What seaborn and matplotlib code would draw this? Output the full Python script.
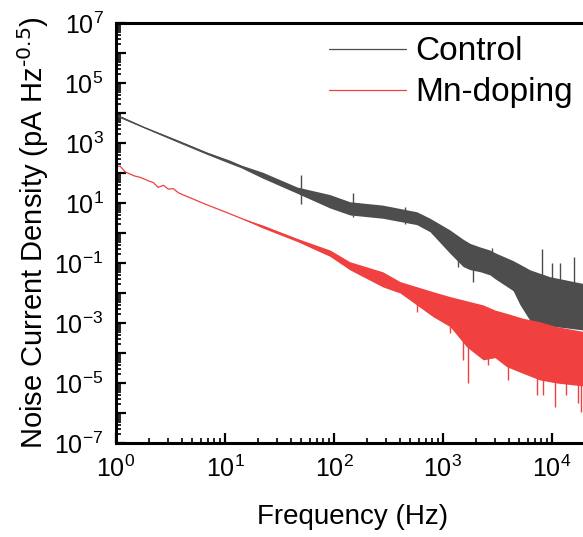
import seaborn as sns
import matplotlib.pyplot as plt
import matplotlib.ticker as mticker
import pandas as pd
import numpy as np

sns.set_style('ticks')
plt.rcParams['font.family'] = ['Liberation Sans', 'DejaVu Sans']
plt.rcParams['mathtext.default'] = 'regular'
plt.rcParams['text.color'] = 'black'
plt.rcParams['axes.labelcolor'] = 'black'
plt.rcParams['axes.edgecolor'] = 'black'
plt.rcParams['xtick.color'] = 'black'
plt.rcParams['ytick.color'] = 'black'

# Control: frequency (Hz), upper and lower edge of the noise band
control_freq = [1, 1.8, 3.6, 6.8, 11, 14, 22, 46, 92, 140, 280, 575, 760, 1160,
                1530, 1770, 2200, 2700, 3000, 4400, 5100, 6300, 9550, 19050, 22000]
control_hi = [9.3e3, 3.5e3, 1.3e3, 500, 270, 185, 107, 34, 19, 11, 8.5, 5.1, 3.1, 1.26,
              0.62, 0.45, 0.34, 0.27, 0.22, 0.12, 0.09, 0.059, 0.035, 0.021, 0.019]
control_lo = [7.9e3, 3.2e3, 1.1e3, 420, 210, 150, 68, 21, 6.8, 4.0, 3.1, 1.9, 1.1, 0.21,
              0.076, 0.06, 0.051, 0.04, 0.03, 0.012, 0.004, 0.0012, 8e-4, 5.9e-4, 5.5e-4]

# Mn-doping
mn_freq = [1, 1.09, 1.21, 1.34, 1.49, 1.66, 1.78, 1.98, 2.2, 2.44, 2.72, 3.02, 3.36,
           3.73, 4.14, 5.12, 6.3, 7.8, 10.4, 13.7, 22, 46, 92, 140, 280, 404, 815,
           1160, 1650, 2340, 3000, 3840, 5420, 7760, 11040, 19050, 22000]
mn_hi = [162, 170, 110, 93, 79, 72, 65, 55, 48, 33, 39, 29, 30, 22, 18.6, 13.5, 9.8,
         7.2, 4.8, 3.2, 1.86, 0.66, 0.27, 0.11, 0.051, 0.024, 0.011, 0.0076, 0.0055,
         0.004, 0.0027, 0.0021, 0.00144, 0.0011, 7.6e-4, 5.3e-4, 5.0e-4]
mn_lo = [162, 170, 110, 93, 79, 72, 65, 55, 48, 33, 39, 29, 30, 22, 18.6, 13.5, 9.8,
         7.2, 4.8, 3.2, 1.48, 0.52, 0.166, 0.059, 0.016, 0.01, 0.0016, 7.6e-4, 1.6e-4,
         5.9e-5, 7e-5, 3.5e-5, 2.1e-5, 1.26e-5, 1e-5, 8e-6, 7.5e-6]

# isolated spikes: frequency, bottom, top
control_spike_f = [50, 148, 447, 1380, 1870, 2830, 8100, 10100, 11900, 16000]
control_spike_lo = [9.3, 3.5, 2.0, 0.076, 0.024, 0.05, 0.003, 0.003, 0.003, 0.003]
control_spike_hi = [85, 22, 7.4, 0.5, 0.2, 0.31, 0.29, 0.098, 0.098, 0.16]
mn_spike_f = [575, 1160, 1535, 1710, 2590, 3980, 7240, 8300, 10700, 13600, 17400, 18300]
mn_spike_lo = [0.0024, 4.6e-4, 5.9e-5, 9.8e-6, 4.0e-5, 1.26e-5, 4.0e-6, 4.0e-6, 1.6e-6,
               4.0e-6, 2.1e-6, 1.1e-6]
mn_spike_hi = [0.006, 0.002, 0.001, 0.001, 1e-4, 5e-5, 2e-5, 2e-5, 1.5e-5, 1.5e-5,
               1.5e-5, 1.5e-5]

gray = '#4d4d4d'
red = '#f04040'

control = pd.DataFrame({'freq': control_freq, 'hi': control_hi, 'lo': control_lo})
control['mid'] = np.sqrt(control['hi'] * control['lo'])
mn = pd.DataFrame({'freq': mn_freq, 'hi': mn_hi, 'lo': mn_lo})
mn['mid'] = np.sqrt(mn['hi'] * mn['lo'])

fig = plt.figure(figsize=(5.83, 5.37), dpi=100)
ax = fig.add_axes([116 / 583, 1 - 443 / 537, 473 / 583, 420 / 537])

ax.fill_between(control['freq'], control['lo'], control['hi'], color=gray, lw=0)
ax.vlines(control_spike_f, control_spike_lo, control_spike_hi, color=gray, lw=1)
sns.lineplot(data=control, x='freq', y='mid', color=gray, lw=0.9, label='Control', ax=ax)

ax.fill_between(mn['freq'], mn['lo'], mn['hi'], color=red, lw=0)
ax.vlines(mn_spike_f, mn_spike_lo, mn_spike_hi, color=red, lw=1)
sns.lineplot(data=mn, x='freq', y='mid', color=red, lw=0.9, label='Mn-doping', ax=ax)

ax.set_xscale('log')
ax.set_yscale('log')
ax.set_xlim(1, 10 ** 4.34)
ax.set_ylim(1e-7, 1e7)

ax.xaxis.set_major_locator(mticker.FixedLocator([10.0 ** k for k in range(0, 5)]))
ax.xaxis.set_minor_locator(mticker.LogLocator(base=10, subs=np.arange(2, 10), numticks=20))
ax.xaxis.set_major_formatter(mticker.FuncFormatter(
    lambda v, p: r'$10^{%d}$' % round(np.log10(v))))
ax.xaxis.set_minor_formatter(mticker.NullFormatter())

ax.yaxis.set_major_locator(mticker.FixedLocator([10.0 ** k for k in range(-7, 8)]))
ax.yaxis.set_minor_locator(mticker.LogLocator(base=10, subs=np.arange(2, 10), numticks=30))
ax.yaxis.set_major_formatter(mticker.FuncFormatter(
    lambda v, p: r'$10^{%d}$' % round(np.log10(v)) if round(np.log10(v)) % 2 else ''))
ax.yaxis.set_minor_formatter(mticker.NullFormatter())

for s in ax.spines.values():
    s.set_linewidth(2.2)
ax.tick_params(which='major', direction='in', length=7, width=1.6, labelsize=18, pad=9)
ax.tick_params(which='minor', direction='in', length=3.5, width=1.2)

ax.set_xlabel('Frequency (Hz)', fontsize=20, labelpad=16)
ax.set_ylabel(r'Noise Current Density (pA Hz$^{\text{-0.5}}$)', fontsize=21, labelpad=2)

ax.legend(loc='upper right', frameon=False, fontsize=24, handlelength=2.3,
          handletextpad=0.3, labelspacing=0.3, borderaxespad=0.0,
          bbox_to_anchor=(0.995, 1.0))

fig.savefig('out.png', dpi=100)
